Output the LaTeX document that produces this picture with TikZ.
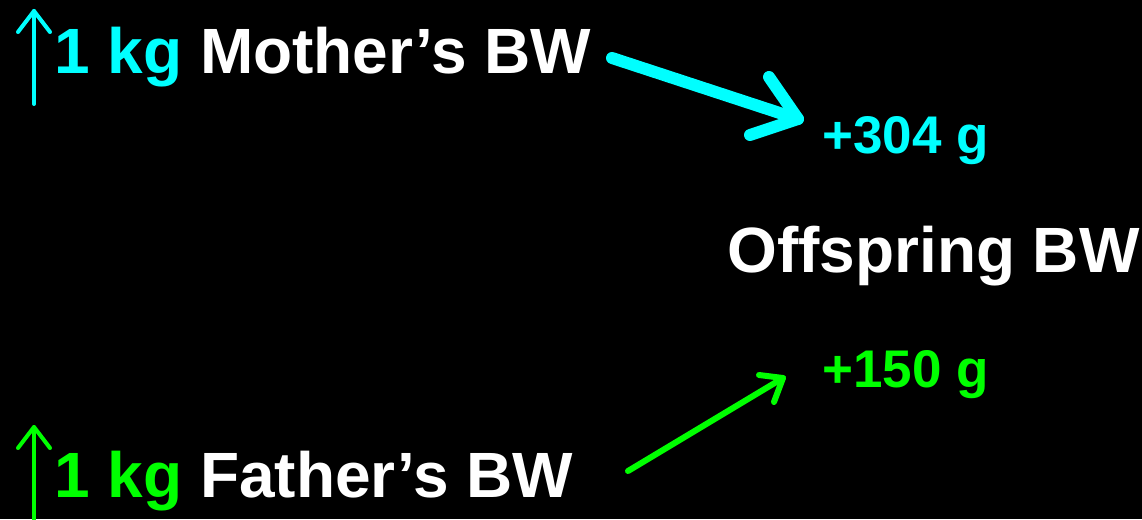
\documentclass[tikz,border=0pt]{standalone}
\usepackage{fontspec}
\setmainfont{Liberation Sans}
\definecolor{cy}{HTML}{00FFFF}
\definecolor{gr}{HTML}{00FF00}
\begin{document}
\begin{tikzpicture}[x=1pt,y=-1pt,
  lbl/.style={inner sep=0pt,anchor=base west,font=\fontsize{64}{72}\selectfont\bfseries,text=white},
  small/.style={inner sep=0pt,anchor=base west,font=\fontsize{53}{60}\selectfont\bfseries},
  uparr/.style={line width=4pt,line cap=round,line join=round},
  bigarr/.style={line width=12pt,line cap=round,line join=round,draw=cy},
  thinarr/.style={line width=6pt,line cap=round,line join=round,draw=gr}]
\fill[black] (0,0) rectangle (1142,519);
\useasboundingbox (0,0) rectangle (1142,519);
% texts
\node[lbl] (m) at (54,74) {\textcolor{cy}{1 kg} Mother’s BW};
\node[lbl] (f) at (54,497) {\textcolor{gr}{1 kg} Father’s BW};
\node[lbl] (o) at (727,272) {Offspring BW};
\node[small,text=cy] (p1) at (822,153) {+304 g};
\node[small,text=gr] (p2) at (822,387) {+150 g};
% up arrows
\coordinate (ut1) at (34,11);
\coordinate (ub1) at (34,104);
\draw[uparr,cy] (ub1) -- (ut1);
\draw[uparr,cy] (18,32) -- (ut1) -- (50,32);
\coordinate (ut2) at (34,427);
\coordinate (ub2) at (34,522);
\draw[uparr,gr] (ub2) -- (ut2);
\draw[uparr,gr] (18,448) -- (ut2) -- (50,448);
% big cyan arrow
\coordinate (cs) at (612,58);
\coordinate (ct) at (798,119);
\draw[bigarr] (cs) -- (ct);
\draw[bigarr] (769,77) -- (ct) -- (750,135);
% green arrow
\coordinate (gs) at (628,471);
\coordinate (gt) at (783,378);
\draw[thinarr] (gs) -- (gt);
\draw[thinarr] (759,375) -- (gt) -- (774,402);
\end{tikzpicture}
\end{document}
